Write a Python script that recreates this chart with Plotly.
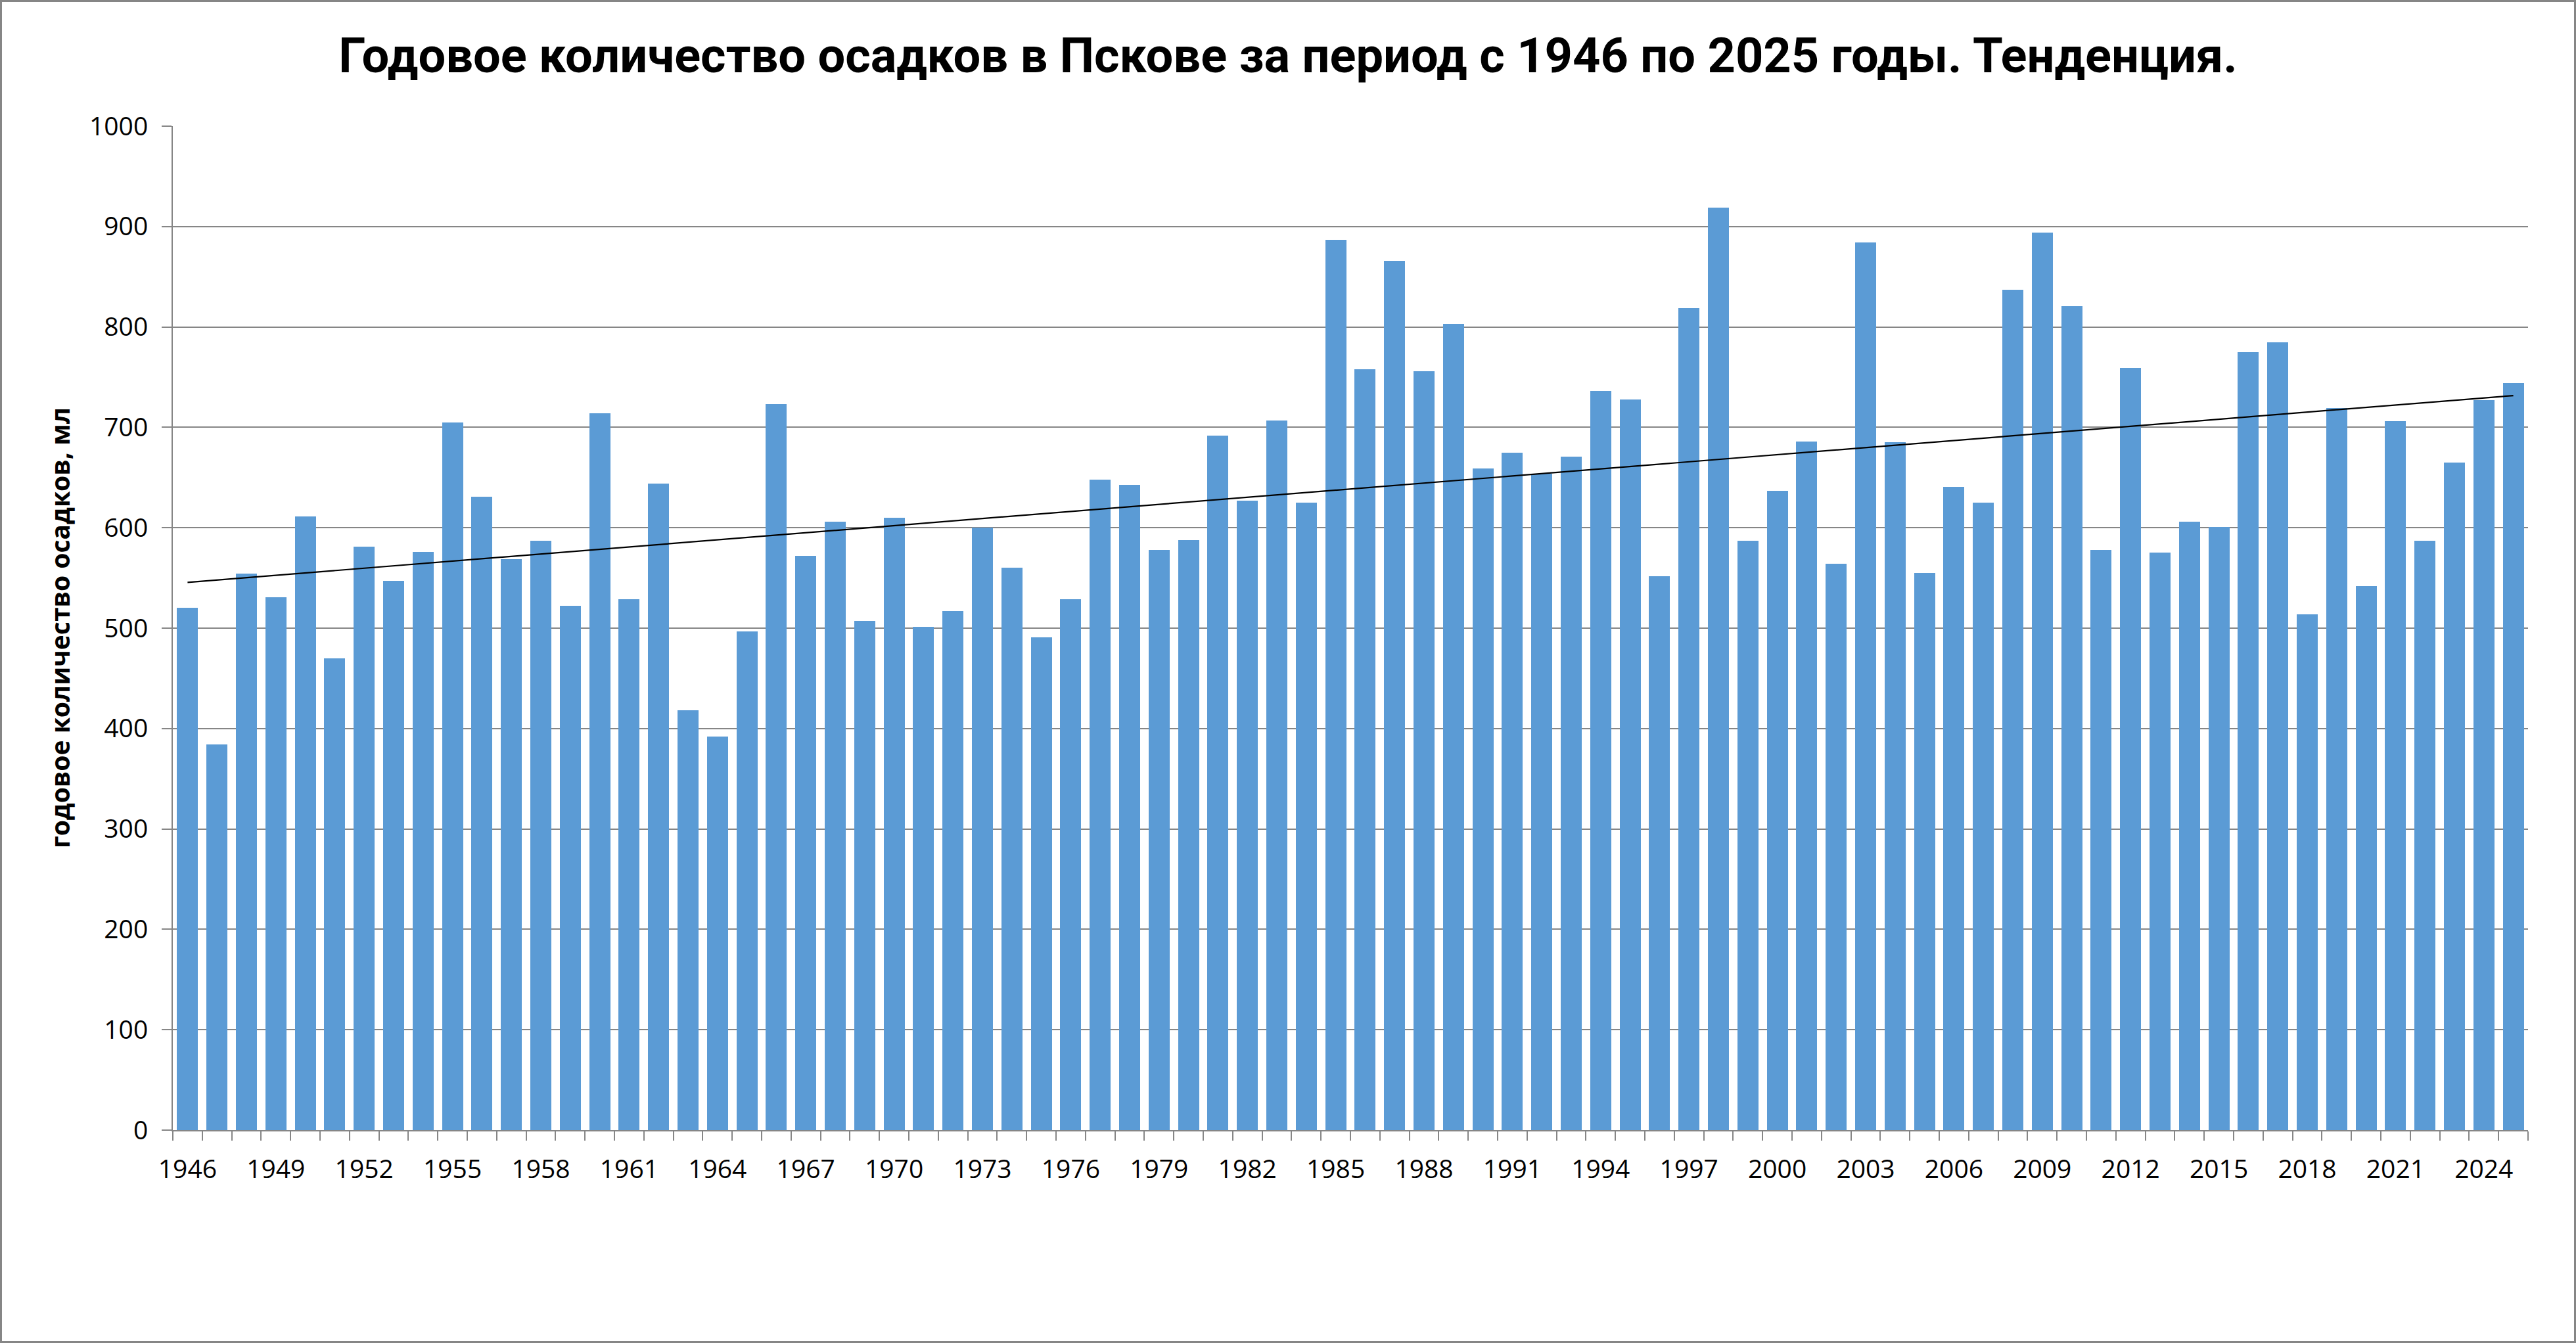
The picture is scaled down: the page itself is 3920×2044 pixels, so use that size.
import numpy as np
import plotly.graph_objects as go

years = list(range(1946, 2026))
precip = [520, 384, 554, 531, 611, 470, 581, 547, 576, 705,
          631, 569, 587, 522, 714, 529, 644, 418, 392, 497,
          723, 572, 606, 507, 610, 501, 517, 600, 560, 491,
          529, 648, 643, 578, 588, 692, 627, 707, 625, 887,
          758, 866, 756, 803, 659, 675, 654, 671, 736, 728,
          552, 819, 919, 587, 637, 686, 564, 884, 685, 555,
          641, 625, 837, 894, 821, 578, 759, 575, 606, 601,
          775, 785, 514, 719, 542, 706, 587, 665, 727, 744]
y_ticks = [0, 100, 200, 300, 400, 500, 600, 700, 800, 900, 1000]
x_label_years = years[::3]

title_text = "Годовое количество осадков в Пскове за период с 1946 по 2025 годы. Тенденция."
y_title = "годовое количество осадков, мл"

# linear trend (least squares, like Excel's linear trendline)
coef = np.polyfit(years, precip, 1)
trend_x = [years[0], years[-1]]
trend_y = list(np.polyval(coef, trend_x))

W, H = 3920, 2044
L, R, T, B = 263, 3920 - 3847, 192, 2044 - 1720
PW, PH = W - L - R, H - T - B
GRID = "#868686"

fig = go.Figure()
fig.add_trace(go.Bar(x=years, y=precip, width=0.714,
                     marker=dict(color="#5B9BD5", line=dict(width=0)),
                     showlegend=False, hoverinfo="skip"))
fig.add_trace(go.Scatter(x=trend_x, y=trend_y, mode="lines",
                         line=dict(color="black", width=2.2),
                         showlegend=False, hoverinfo="skip"))

fig.update_layout(
    width=W, height=H,
    margin=dict(l=L, r=R, t=T, b=B, autoexpand=False),
    paper_bgcolor="white", plot_bgcolor="white",
    title=dict(text=f"<b>{title_text}</b>", x=0.5, xref="container", xanchor="center",
               y=1 - 84 / H, yref="container", yanchor="middle",
               font=dict(family="Roboto", size=74, color="black")),
    bargap=0,
    xaxis=dict(range=[1945.5, 2025.5], tickmode="array", tickvals=x_label_years,
               ticktext=[str(v) for v in x_label_years],
               ticks="outside", ticklen=14, tickcolor="rgba(0,0,0,0)",
               ticklabelstandoff=10,
               showline=True, linecolor=GRID, linewidth=2,
               showgrid=False, zeroline=False,
               tickfont=dict(family="Open Sans", size=39, color="black"),
               minor=dict(tickmode="linear", tick0=1945.5, dtick=1, ticks="outside",
                          ticklen=14, tickwidth=2, tickcolor=GRID, showgrid=False)),
    yaxis=dict(range=[0, 1000], tickmode="array", tickvals=y_ticks,
               ticks="outside", ticklen=15, tickwidth=2, tickcolor=GRID,
               ticklabelstandoff=13,
               showline=True, linecolor=GRID, linewidth=2,
               showgrid=True, gridcolor=GRID, gridwidth=2, zeroline=False,
               tickfont=dict(family="Open Sans", size=39, color="black")),
)

fig.add_annotation(text=f"<b>{y_title}</b>", textangle=-90,
                   xref="paper", yref="paper", x=(90 - L) / PW, y=0.5,
                   xanchor="center", yanchor="middle", showarrow=False,
                   font=dict(family="Open Sans", size=39, color="black"))

# outer chart border
fig.add_shape(type="rect", xref="paper", yref="paper",
              x0=(1.5 - L) / PW, x1=(W - 1.5 - L) / PW,
              y0=-(B - 1.5) / PH, y1=1 + (T - 1.5) / PH,
              line=dict(color=GRID, width=3), fillcolor="rgba(0,0,0,0)", layer="below")

fig.write_html("out.html", config={"displayModeBar": False},
               post_script="document.body.style.margin='0';document.body.style.overflow='hidden';")
